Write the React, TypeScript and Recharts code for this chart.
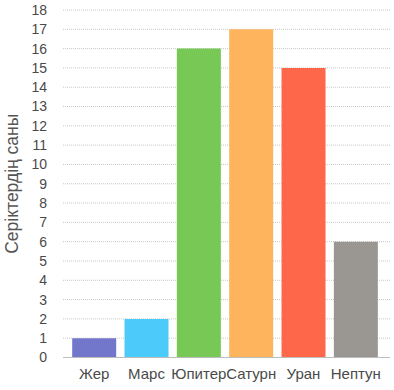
import React from 'react';
import { BarChart, Bar, XAxis, YAxis, CartesianGrid, Cell } from 'recharts';

const planets = ['Жер', 'Марс', 'Юпитер', 'Сатурн', 'Уран', 'Нептун'];
const moons = [1, 2, 16, 17, 15, 6];
const colors = ['#7277CB', '#4CCBFA', '#77C855', '#FEB45C', '#FF674A', '#9A9792'];
const yTicks = [0, 1, 2, 3, 4, 5, 6, 7, 8, 9, 10, 11, 12, 13, 14, 15, 16, 17, 18];
const yLabel = 'Серіктердің саны';

const data = planets.map((name, i) => ({ name, value: moons[i] }));

const font = '"Liberation Sans", Arial, Helvetica, sans-serif';

export default function App() {
  return (
    <div style={{ position: 'absolute', left: 0, top: 0, width: 394, height: 390, background: '#fff' }}>
      <BarChart
        width={394}
        height={390}
        data={data}
        margin={{ top: 10, right: 4, bottom: 2.5, left: 0 }}
        barCategoryGap="8%"
      >
        <CartesianGrid vertical={false} stroke="#c8c8c8" strokeDasharray="1 1" />
        <XAxis
          dataKey="name"
          height={30}
          padding={{ left: 5, right: 8 }}
          tickLine={false}
          axisLine={{ stroke: '#bdbdbd', strokeWidth: 1 }}
          tickMargin={5}
          interval={0}
          tick={{ fill: '#4a4a4a', fontSize: 15, fontFamily: font }}
        />
        <YAxis
          width={63}
          domain={[0, 18]}
          ticks={yTicks}
          interval={0}
          axisLine={false}
          tickLine={false}
          tickMargin={10}
          tick={{ fill: '#4a4a4a', fontSize: 14, fontFamily: font }}
          label={{
            value: yLabel,
            angle: -90,
            position: 'insideLeft',
            offset: 12,
            style: { textAnchor: 'middle', fill: '#555', fontSize: 17.5, fontFamily: font },
          }}
        />
        <Bar dataKey="value" isAnimationActive={false}>
          {data.map((d, i) => (
            <Cell key={d.name} fill={colors[i]} />
          ))}
        </Bar>
      </BarChart>
    </div>
  );
}
